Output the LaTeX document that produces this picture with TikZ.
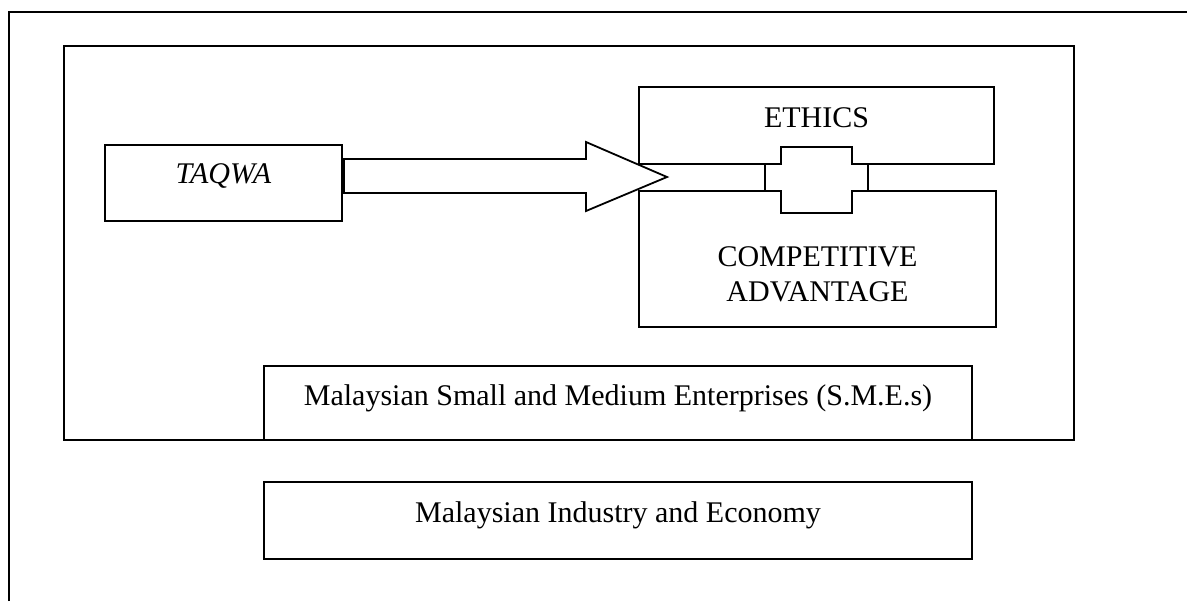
\documentclass[tikz,border=0pt]{standalone}
\usepackage{fontspec}
\setmainfont{Liberation Serif}
\usepackage{tikz}

\begin{document}
\begin{tikzpicture}[x=0.5pt, y=-0.5pt, line width=0.9pt, line join=miter,
      every node/.append style={font=\fontsize{15}{17.5}\selectfont, inner sep=0pt},
      box/.style={draw, rectangle, minimum width=#1},
      box/.default=354pt,
      fatarrow/.style={draw, fill=white}]
    \useasboundingbox (0,0) rectangle (1187,601);
    \draw (9,601) -- (9,12) -- (1187,12);
    \node (frame) [box=505pt, minimum height=197pt] at (569,243) {};
    \node (taqwa) [box=118.5pt, minimum height=38pt] at (223.5,183) {};
    \node (ethics) [box=177.5pt, minimum height=38.5pt] at (816.5,125.5) {};
    \node (compet) [box=178.5pt, minimum height=68pt] at (817.5,259) {};
    \node (sme) [box, minimum height=37pt] at (618,403) {};
    \node (economy) [box, minimum height=38.5pt] at (618,520.5) {};
    \node (taqwa-text) [anchor=base] at (taqwa.center) {\textit{TAQWA}};
    \node (ethics-text) [anchor=base] at ([yshift=-0.75pt]ethics.center) {ETHICS};
    \node (compet-text) [align=center] at ([yshift=-7.75pt]compet.center) {COMPETITIVE\\ADVANTAGE};
    \node (sme-text) [anchor=base] at ([yshift=-1pt]sme.center) {Malaysian Small and Medium Enterprises (S.M.E.s)};
    \node (economy-text) [anchor=base] at ([yshift=-0.75pt]economy.center) {Malaysian Industry and Economy};
    \draw[fatarrow] (344,159) -- (586,159) -- (586,142) -- (667,177)
      -- (586,211) -- (586,193) -- (344,193) -- cycle;
    \draw[fatarrow] (765,164) -- (781,164) -- (781,147) -- (852,147) -- (852,164)
      -- (868,164) -- (868,191) -- (852,191) -- (852,213) -- (781,213)
      -- (781,191) -- (765,191) -- cycle;
\end{tikzpicture}
\end{document}
